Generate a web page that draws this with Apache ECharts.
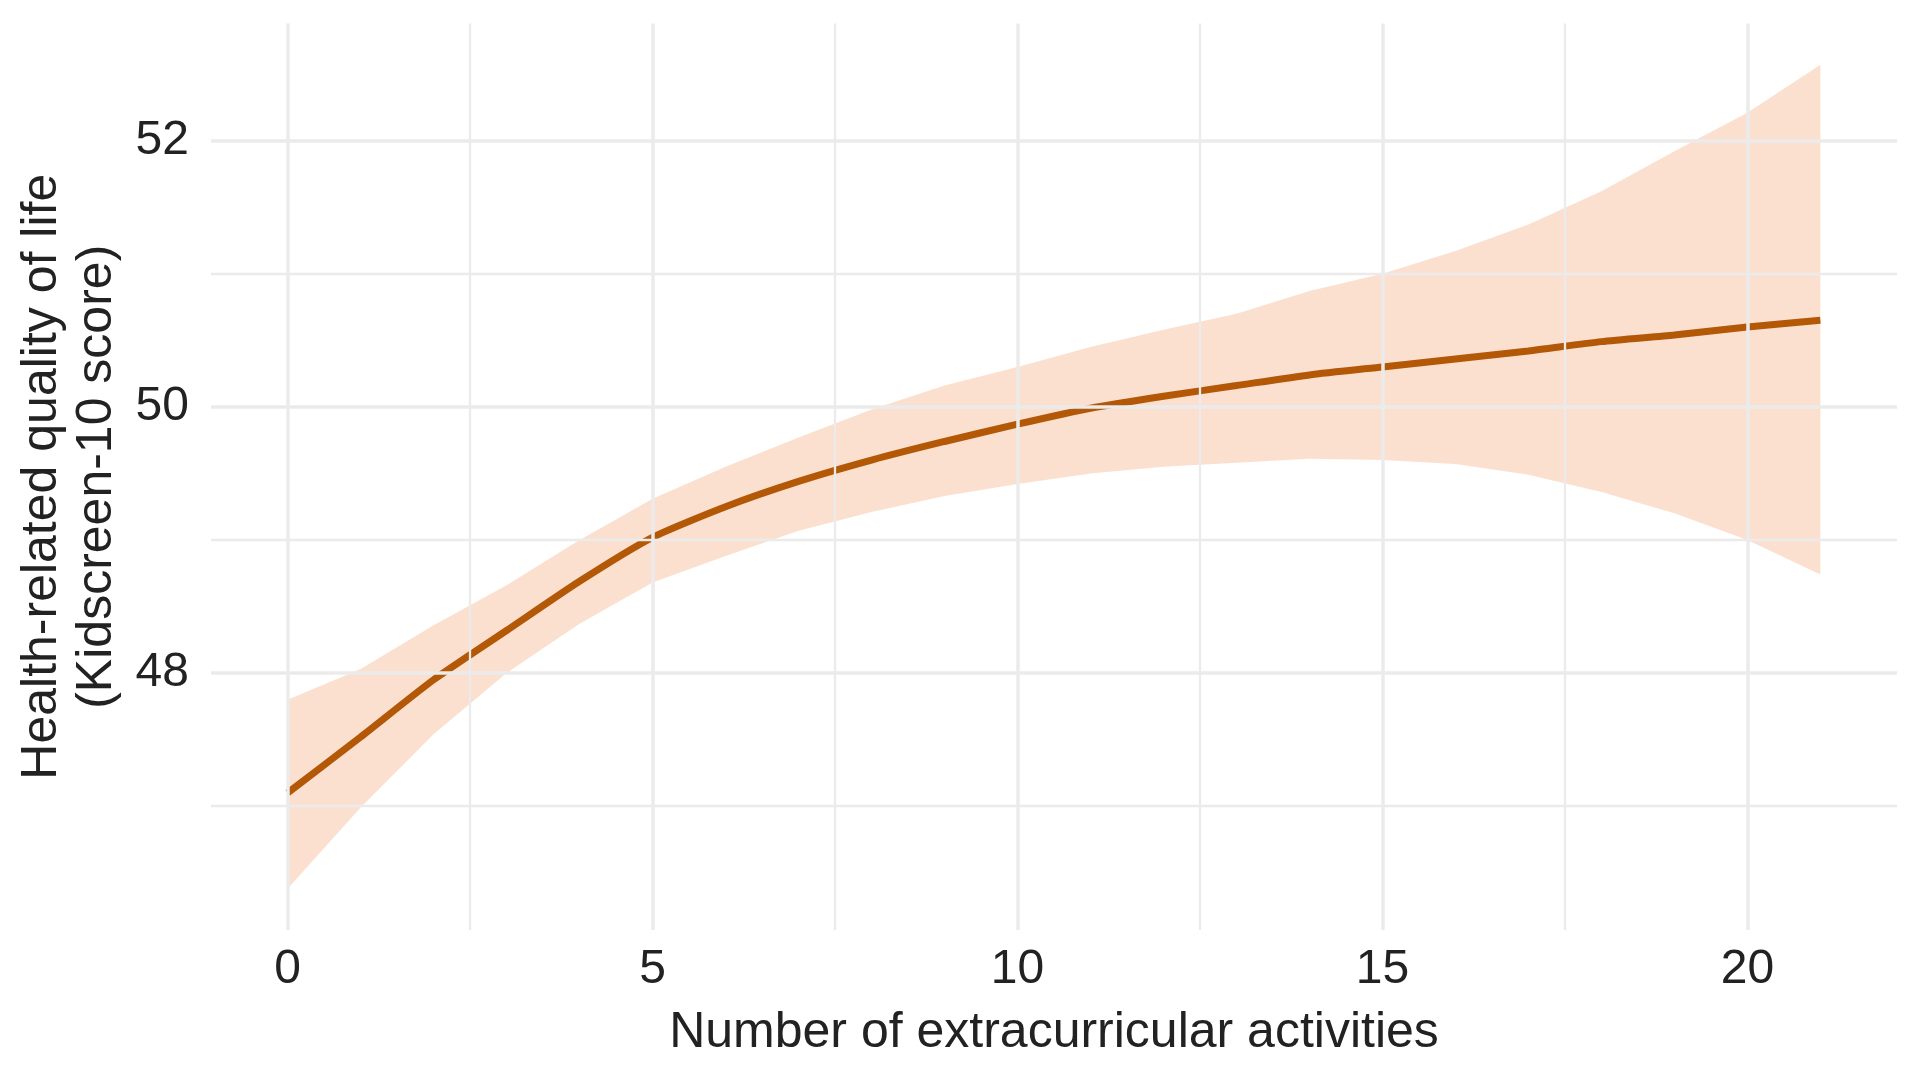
<!DOCTYPE html>
<html>
<head>
<meta charset="utf-8">
<title>Extracurricular activities and quality of life</title>
<script src="https://cdn.jsdelivr.net/npm/echarts@6/dist/echarts.min.js"></script>
<style>
  html, body { margin: 0; padding: 0; background: #fff; }
  #chart { width: 1920px; height: 1080px; }
</style>
</head>
<body>
<div id="chart"></div>
<script>
// number of extracurricular activities
const activities = [0, 1, 2, 3, 4, 5, 6, 7, 8, 9, 10, 11, 12, 13, 14, 15, 16, 17, 18, 19, 20, 21];
// fitted Kidscreen-10 score
const fitValues = [47.10, 47.52, 47.95, 48.32, 48.69, 49.02, 49.25, 49.44, 49.60, 49.74, 49.87,
  49.99, 50.08, 50.16, 50.24, 50.30, 50.36, 50.42, 50.49, 50.54, 50.60, 50.65];
// confidence band
const lowerValues = [46.38, 46.99, 47.54, 48.00, 48.37, 48.68, 48.88, 49.07, 49.21, 49.33, 49.42,
  49.50, 49.55, 49.58, 49.61, 49.60, 49.57, 49.49, 49.36, 49.20, 49.00, 48.74];
const upperValues = [47.80, 48.03, 48.36, 48.66, 49.00, 49.31, 49.55, 49.77, 49.98, 50.16, 50.30,
  50.45, 50.58, 50.70, 50.87, 51.00, 51.17, 51.37, 51.62, 51.92, 52.21, 52.57];
// grid lines
const xMajor = [0, 5, 10, 15, 20];
const xMinor = [2.5, 7.5, 12.5, 17.5];
const yMajor = [48, 50, 52];
const yMinor = [47, 49, 51];

const gridColor = '#EBEBEB';
const textColor = '#222222';
const fontFamily = '"Liberation Sans", Arial, sans-serif';

const gridLines = [];
xMinor.forEach(v => gridLines.push({ xAxis: v, lineStyle: { width: 2.3 } }));
yMinor.forEach(v => gridLines.push({ yAxis: v, lineStyle: { width: 2.3 } }));
xMajor.forEach(v => gridLines.push({ xAxis: v, lineStyle: { width: 3.5 } }));
yMajor.forEach(v => gridLines.push({ yAxis: v, lineStyle: { width: 3.5 } }));

// ribbon: one polygon, upper edge forward then lower edge back
const renderBand = (params, api) => {
  if (params.dataIndex !== 0) return null;
  const pts = [];
  for (let i = 0; i < activities.length; i++) {
    pts.push(api.coord([activities[i], upperValues[i]]));
  }
  for (let i = activities.length - 1; i >= 0; i--) {
    pts.push(api.coord([activities[i], lowerValues[i]]));
  }
  return {
    type: 'polygon',
    shape: { points: pts },
    style: { fill: '#F4A679', opacity: 0.35 }
  };
};

const chart = echarts.init(document.getElementById('chart'));
const option = {
  animation: false,
  backgroundColor: '#fff',
  grid: {
    left: 211,
    right: 23,
    top: 23.5,
    bottom: 150,
    containLabel: false,
    outerBoundsMode: 'none'
  },
  xAxis: {
    type: 'value',
    min: -1.05,
    max: 22.05,
    minInterval: 5,
    maxInterval: 5,
    name: 'Number of extracurricular activities',
    nameLocation: 'middle',
    nameGap: 78,
    nameTextStyle: { fontSize: 50, color: textColor, fontFamily: fontFamily },
    axisLine: { show: false },
    axisTick: { show: false },
    splitLine: { show: false },
    axisLabel: {
      showMinLabel: false,
      showMaxLabel: false,
      fontSize: 48,
      margin: 16,
      color: textColor,
      fontFamily: fontFamily
    }
  },
  yAxis: {
    type: 'value',
    min: 46.07,
    max: 52.88,
    minInterval: 2,
    maxInterval: 2,
    name: 'Health-related quality of life\n(Kidscreen-10 score)',
    nameLocation: 'middle',
    nameRotate: 90,
    nameGap: 86,
    nameTextStyle: { fontSize: 50, lineHeight: 55, color: textColor, fontFamily: fontFamily, align: 'center' },
    axisLine: { show: false },
    axisTick: { show: false },
    splitLine: { show: false },
    axisLabel: {
      showMinLabel: false,
      showMaxLabel: false,
      fontSize: 48,
      margin: 22,
      color: textColor,
      fontFamily: fontFamily
    }
  },
  series: [
    {
      name: 'grid',
      type: 'line',
      symbol: 'none',
      z: 1,
      lineStyle: { width: 0, opacity: 0 },
      data: [],
      markLine: {
        silent: true,
        symbol: 'none',
        label: { show: false },
        lineStyle: { color: gridColor, type: 'solid' },
        data: gridLines
      }
    },
    {
      name: 'band',
      type: 'custom',
      z: 2,
      silent: true,
      renderItem: renderBand,
      encode: { x: 0, y: [1, 2] },
      data: activities.map((x, i) => [x, lowerValues[i], upperValues[i]])
    },
    {
      name: 'fit',
      type: 'line',
      smooth: 0.2,
      symbol: 'none',
      z: 3,
      lineStyle: { color: '#B35806', width: 7 },
      data: activities.map((x, i) => [x, fitValues[i]])
    }
  ]
};
chart.setOption(option);
</script>
</body>
</html>
